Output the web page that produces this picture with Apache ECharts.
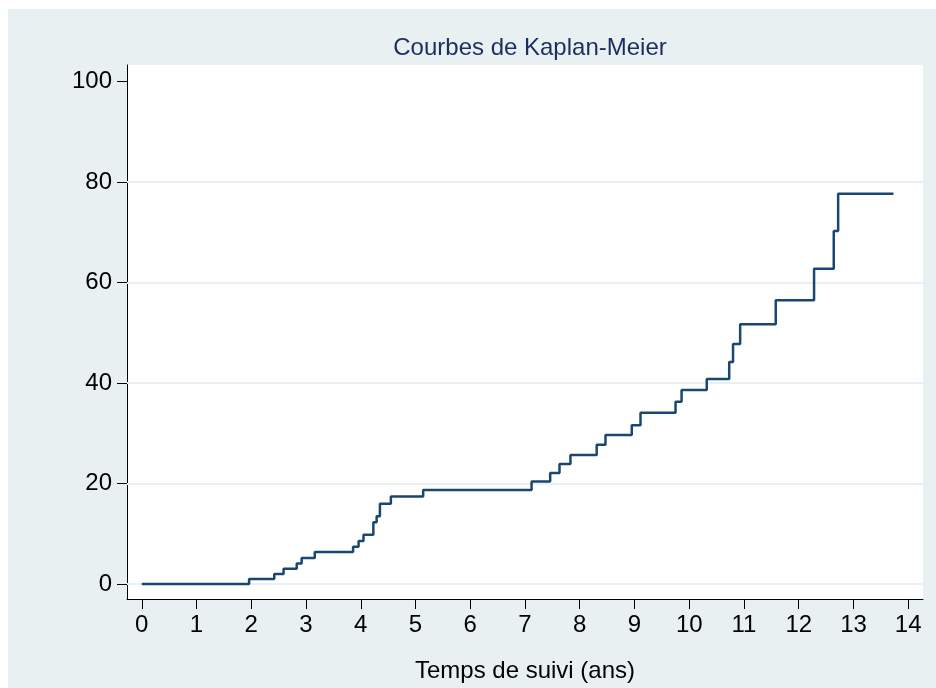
<!DOCTYPE html>
<html>
<head>
<meta charset="utf-8">
<style>
  body { margin: 0; background: #fff; }
  #wrap { position: relative; width: 936px; height: 688px; }
  #bg { position: absolute; left: 8px; top: 9px; right: 0; bottom: 0; background: #e8f0f2; }
  #main { position: absolute; left: 0; top: 0; width: 936px; height: 688px; }
</style>
<script src="https://cdn.jsdelivr.net/npm/echarts/dist/echarts.min.js"></script>
</head>
<body>
<div id="wrap">
  <div id="bg"></div>
  <div id="main"></div>
</div>
<script>
  // Kaplan-Meier (1 - S) en %, temps en années
  var times = [0, 1.96, 2.42, 2.59, 2.83, 2.92, 3.16, 3.86, 3.96, 4.05, 4.23, 4.29, 4.35, 4.55,
    5.14, 7.12, 7.46, 7.63, 7.83, 8.31, 8.47, 8.95, 9.11, 9.75, 9.86, 10.32, 10.73, 10.80,
    10.93, 11.58, 12.28, 12.64, 12.72, 13.73];
  var values = [0, 1.0, 2.0, 3.05, 4.1, 5.2, 6.35, 7.4, 8.55, 9.8, 12.3, 13.5, 16.0, 17.4,
    18.7, 20.4, 22.1, 23.9, 25.7, 27.7, 29.65, 31.6, 34.1, 36.3, 38.6, 40.8, 44.2, 47.8,
    51.7, 56.5, 62.75, 70.25, 77.7, 77.7];
  var xTicks = [0, 1, 2, 3, 4, 5, 6, 7, 8, 9, 10, 11, 12, 13, 14];
  var yTicks = [0, 20, 40, 60, 80, 100];
  var gridLines = [0, 20, 40, 60, 80];

  var font = "'Liberation Sans', Arial, sans-serif";
  var chart = echarts.init(document.getElementById('main'), null, { renderer: 'canvas' });

  var kmData = [];
  for (var i = 0; i < times.length; i++) {
    kmData.push([times[i], values[i]]);
  }

  chart.setOption({
    backgroundColor: 'transparent',
    animation: false,
    title: {
      text: 'Courbes de Kaplan-Meier',
      left: 525,
      top: 31,
      textAlign: 'center',
      textStyle: {
        color: '#1c2e5e',
        fontFamily: font,
        fontWeight: 'normal',
        fontSize: 24
      }
    },
    grid: {
      left: 127,
      right: 13,
      top: 65,
      bottom: 89,
      show: true,
      backgroundColor: '#fff',
      borderWidth: 0
    },
    xAxis: {
      type: 'value',
      min: -0.27,
      max: 14.27,
      name: 'Temps de suivi (ans)',
      nameLocation: 'middle',
      nameGap: 60,
      nameTextStyle: { color: '#000', fontFamily: font, fontSize: 24 },
      axisLine: { show: true, onZero: false, lineStyle: { color: '#000', width: 1 } },
      axisTick: { show: true, length: 10, customValues: xTicks, lineStyle: { color: '#000' } },
      axisLabel: { customValues: xTicks, margin: 14, color: '#000', fontFamily: font, fontSize: 24 },
      splitLine: { show: false }
    },
    yAxis: {
      type: 'value',
      min: -2.986,
      max: 103.32,
      axisLine: { show: true, onZero: false, lineStyle: { color: '#000', width: 1 } },
      axisTick: { show: true, length: 10, customValues: yTicks, lineStyle: { color: '#000' } },
      axisLabel: { customValues: yTicks, margin: 15, color: '#000', fontFamily: font, fontSize: 24 },
      splitLine: { show: false }
    },
    series: [{
      type: 'line',
      step: 'end',
      z: 3,
      showSymbol: false,
      symbol: 'none',
      data: kmData,
      lineStyle: { color: '#1a476f', width: 2.5 },
      markLine: {
        z: 1,
        silent: true,
        symbol: 'none',
        label: { show: false },
        lineStyle: { color: '#e8f0f2', width: 2, type: 'solid' },
        data: gridLines.map(function(v) { return { yAxis: v }; })
      }
    }]
  });
</script>
</body>
</html>
